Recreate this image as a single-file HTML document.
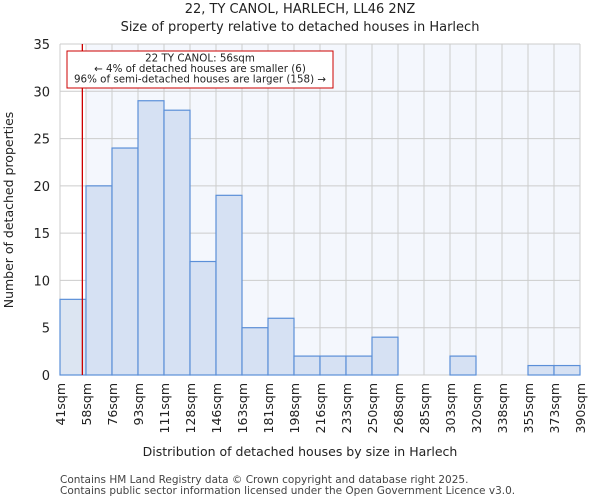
<!DOCTYPE html>
<html><head><meta charset="utf-8"><style>
body{margin:0;background:#fff;font-family:"DejaVu Sans","Liberation Sans",sans-serif}
</style></head><body>
<svg width="600" height="500" xmlns="http://www.w3.org/2000/svg" font-family="DejaVu Sans, Liberation Sans, sans-serif">
<text x="300" y="13" text-anchor="middle" font-size="13" fill="#222">22, TY CANOL, HARLECH, LL46 2NZ</text>
<text x="300" y="31" text-anchor="middle" font-size="13" fill="#222">Size of property relative to detached houses in Harlech</text>
<g id="plot"></g>
<text x="300" y="456" text-anchor="middle" font-size="12.5" fill="#222">Distribution of detached houses by size in Harlech</text>
<text transform="translate(13,210) rotate(-90)" text-anchor="middle" font-size="12.5" fill="#222">Number of detached properties</text>
<text x="60" y="483" font-size="10.5" fill="#444">Contains HM Land Registry data © Crown copyright and database right 2025.</text>
<text x="60" y="494" font-size="10.5" fill="#444">Contains public sector information licensed under the Open Government Licence v3.0.</text>
</svg>
<script>
const categories=["41sqm","58sqm","76sqm","93sqm","111sqm","128sqm","146sqm","163sqm","181sqm","198sqm","216sqm","233sqm","250sqm","268sqm","285sqm","303sqm","320sqm","338sqm","355sqm","373sqm","390sqm"];
const binStarts=[41,58.45,75.9,93.35,110.8,128.25,145.7,163.15,180.6,198.05,215.5,232.95,250.4,267.85,285.3,302.75,320.2,337.65,355.1,372.55,390];
const counts=[8,20,24,29,28,12,19,5,6,2,2,2,4,0,0,2,0,0,1,1];
const yTicks=[0,5,10,15,20,25,30,35];
const subjectSize=56;
const NS="http://www.w3.org/2000/svg";
const g=document.getElementById('plot');
const X0=60,X1=580,Y0=375,Y1=44;
const nb=counts.length;
const xs=i=>X0+(X1-X0)*i/nb;
const xv=v=>{for(let i=0;i<nb;i++){if(v<=binStarts[i+1])return xs(i)+(v-binStarts[i])/(binStarts[i+1]-binStarts[i])*(X1-X0)/nb;}return X1;};
const ys=v=>Y0-(Y0-Y1)*v/35;
function mk(t,a){const e=document.createElementNS(NS,t);for(const k in a)e.setAttribute(k,a[k]);g.appendChild(e);return e;}
let e=mk('rect',{x:X0,y:Y1,width:X1-X0,height:Y0-Y1,fill:'#f4f7fd'});


e=mk('rect',{x:X0,y:Y1,width:xs(1)-X0,height:Y0-Y1,fill:'#ffffff'});


for(let i=0;i<=nb;i++){e=mk('line',{x1:xs(i),x2:xs(i),y1:Y1,y2:Y0,stroke:'#cccccc','stroke-width':1});

}
yTicks.forEach(t=>{e=mk('line',{x1:X0,x2:X1,y1:ys(t),y2:ys(t),stroke:'#cccccc','stroke-width':1});


e=mk('text',{x:X0-10,y:ys(t)+5,'text-anchor':'end','font-size':13,fill:'#222'});e.textContent=t;

});
counts.forEach((c,i)=>{if(c<=0)return;e=mk('rect',{x:xs(i),y:ys(c),width:(X1-X0)/nb,height:Y0-ys(c),fill:i==0?'#dce5f2':'#d6e1f3',stroke:'#5b8fd8','stroke-width':1.2});

});
categories.forEach((c,i)=>{const x=xs(i);e=mk('text',{transform:`translate(${x+5},${Y0+8}) rotate(-90)`,'text-anchor':'end','font-size':12.5,fill:'#222'});e.textContent=c;

});
const rx=xv(subjectSize);
e=mk('line',{x1:rx,x2:rx,y1:Y1,y2:Y0,stroke:'#cc0000','stroke-width':1.3});


e=mk('rect',{x:67,y:51,width:266,height:37,fill:'#fff',stroke:'#cc0000','stroke-width':1});


["22 TY CANOL: 56sqm","← 4% of detached houses are smaller (6)","96% of semi-detached houses are larger (158) →"].forEach((t,i)=>{e=mk('text',{x:200,y:61.5+i*10.5,'text-anchor':'middle','font-size':10.3,fill:'#222'});e.textContent=t;

});
</script>
</body></html>
